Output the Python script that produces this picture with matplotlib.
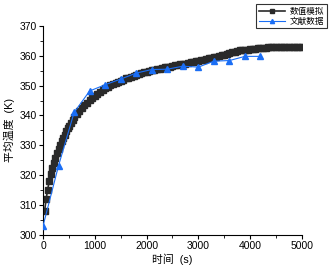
import matplotlib
matplotlib.use("Agg")
import matplotlib.pyplot as plt
from matplotlib.ticker import MultipleLocator

plt.rcParams['font.family'] = ['Liberation Sans', 'Noto Sans CJK SC', 'DejaVu Sans']

# Simulation series (数值模拟)
sim_t = [30, 60, 90, 120, 150, 180, 210, 240, 270, 300, 330, 360, 390, 420, 450,
         480, 510, 540, 570, 600] + list(range(650, 5001, 50))
sim_T = [308.0, 312.0, 315.2, 318.0, 320.3, 322.3, 324.2, 325.8, 327.3, 328.7,
         330.0, 331.3, 332.5, 333.6, 334.7, 335.7, 336.6, 337.5, 338.4, 339.6,
         340.6, 341.5, 342.5, 343.4, 344.3, 345.2, 345.9, 346.6, 347.3, 347.9,
         348.5, 349.1, 349.6, 350.1, 350.5, 350.9, 351.3, 351.7, 352.0, 352.4,
         352.7, 353.0, 353.3, 353.6, 353.9, 354.2, 354.4, 354.7, 354.9, 355.1,
         355.3, 355.5, 355.7, 355.9, 356.1, 356.3, 356.4, 356.6, 356.8, 356.9,
         357.1, 357.3, 357.4, 357.6, 357.8, 357.9, 358.1, 358.3, 358.5, 358.7,
         358.9, 359.1, 359.3, 359.5, 359.7, 359.9, 360.1, 360.4, 360.6, 360.8,
         361.1, 361.3, 361.6, 361.8, 361.9, 362.0, 362.1, 362.2, 362.3, 362.4,
         362.5, 362.6, 362.7, 362.7, 362.8, 362.8, 362.9, 362.9, 363.0, 363.0,
         363.0, 363.0, 363.0, 363.0, 363.0, 363.0, 363.0, 363.0]

# Literature series (文献数据)
lit_t = [0, 300, 600, 900, 1200, 1500, 1800, 2100, 2400, 2700, 3000, 3300, 3600, 3900, 4200]
lit_T = [303.0, 323.2, 341.0, 348.2, 350.3, 352.2, 354.2, 355.4, 355.5, 356.5,
         356.2, 358.2, 358.4, 359.8, 359.8]

labels = ['数值模拟', '文献数据']

fig = plt.figure(figsize=(3.31, 2.70), dpi=100)
ax = fig.add_axes([0.130, 0.130, 0.782, 0.774])

ax.plot(sim_t, sim_T, color='#2a2a2a', marker='s', markersize=4.3, lw=1.2,
        label=labels[0], zorder=2)
ax.plot(lit_t, lit_T, color='#1a6ef5', marker='^', markersize=4.3, lw=0.8,
        label=labels[1], zorder=3)

ax.set_xlim(0, 5000)
ax.set_ylim(300, 370)
ax.xaxis.set_major_locator(MultipleLocator(1000))
ax.xaxis.set_minor_locator(MultipleLocator(500))
ax.yaxis.set_major_locator(MultipleLocator(10))
ax.yaxis.set_minor_locator(MultipleLocator(5))
ax.spines['top'].set_visible(False)
ax.spines['right'].set_visible(False)
for s in ('left', 'bottom'):
    ax.spines[s].set_linewidth(0.8)
ax.tick_params(which='major', direction='out', length=3, width=0.8, labelsize=7.5, pad=1.5)
ax.tick_params(which='minor', direction='out', length=2, width=0.6)

ax.set_xlabel('时间  (s)', fontsize=7.8, labelpad=2)
ax.set_ylabel('平均温度  (K)', fontsize=7.8, labelpad=3)

leg = fig.legend(loc='upper right', bbox_to_anchor=(327 / 331, 1 - 4 / 270), fontsize=6.2,
                 frameon=True, fancybox=False, edgecolor='black',
                 borderpad=0.3, handlelength=3.0, handletextpad=0.6,
                 labelspacing=0.15, borderaxespad=0, markerscale=0.7)
leg.get_frame().set_linewidth(0.8)

fig.savefig('out.png', dpi=100)
